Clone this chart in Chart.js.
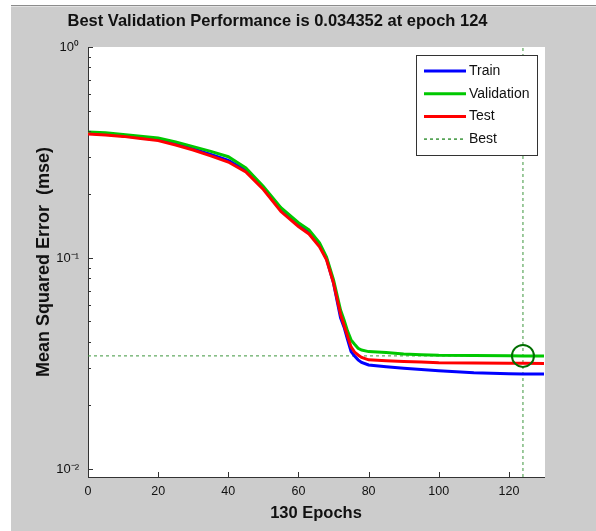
<!DOCTYPE html>
<html>
<head>
<meta charset="utf-8">
<script src="https://cdn.jsdelivr.net/npm/chart.js@4.4.0/dist/chart.umd.min.js"></script>
<style>
body { margin: 0; background: #fff; }
#frame { position: absolute; left: 11px; top: 5px; width: 585px; height: 526px; background: #cccccc; border-top: 1px solid #8c8c8c; box-sizing: border-box; }
#hl { position: absolute; left: 0; top: 0; width: 100%; height: 1px; background: #e2e2e2; }
#wrap { position: absolute; left: 0; top: 1px; width: 585px; height: 524px; }
</style>
</head>
<body>
<div id="frame"><div id="hl"></div><div id="wrap"><canvas id="myChart" width="585" height="524"></canvas></div></div>
<script>
// values
var epochs    = [0, 5, 10, 15, 20, 25, 30, 35, 40, 45, 50, 55, 60, 63, 66, 68, 70, 72, 73, 74, 75, 76, 77, 78, 80, 85, 90, 95, 100, 110, 120, 124, 130];
var trainMse  = [0.390, 0.386, 0.380, 0.371, 0.363, 0.347, 0.329, 0.310, 0.290, 0.260, 0.214, 0.169, 0.143, 0.132, 0.115, 0.099, 0.076, 0.052, 0.047, 0.041, 0.036, 0.0343, 0.0329, 0.0320, 0.0311, 0.0305, 0.0300, 0.0296, 0.0292, 0.0286, 0.0283, 0.0282, 0.0282];
var validMse  = [0.395, 0.392, 0.385, 0.378, 0.370, 0.355, 0.337, 0.320, 0.302, 0.267, 0.218, 0.173, 0.147, 0.136, 0.118, 0.101, 0.0787, 0.0567, 0.0508, 0.045, 0.0409, 0.039, 0.0373, 0.0366, 0.0360, 0.0356, 0.0351, 0.0348, 0.0346, 0.0345, 0.03437, 0.034352, 0.03435];
var testMse   = [0.387, 0.383, 0.377, 0.368, 0.360, 0.343, 0.325, 0.305, 0.285, 0.256, 0.211, 0.166, 0.141, 0.130, 0.113, 0.098, 0.076, 0.054, 0.048, 0.0425, 0.0379, 0.0358, 0.0347, 0.0338, 0.0329, 0.0326, 0.0323, 0.0321, 0.0319, 0.0318, 0.0317, 0.0317, 0.0316];
var bestEpoch = 124;
var bestPerf  = 0.034352;
var xTicks    = [0, 20, 40, 60, 80, 100, 120];
var yTicks    = [0.01, 0.02, 0.03, 0.04, 0.05, 0.06, 0.07, 0.08, 0.09, 0.1, 0.2, 0.3, 0.4, 0.5, 0.6, 0.7, 0.8, 0.9, 1];
var yMajor    = [0.01, 0.1, 1];
var yMajorLabels = ['10\u207B\u00B2', '10\u207B\u00B9', '10\u2070'];
var xMin = 0, xMax = 130, yMin = 0.00916, yMax = 1;

var legendNames = ['Train', 'Validation', 'Test', 'Best'];

function pts(ys) {
  return epochs.map(function (e, i) { return {x: e, y: ys[i]}; });
}

var bestColor = '#3c963c';

// white plot area on the grey figure
var whiteArea = {
  id: 'whiteArea',
  beforeDraw(chart) {
    var a = chart.chartArea, c = chart.ctx;
    c.save();
    c.fillStyle = '#fff';
    c.fillRect(a.left, a.top, a.right - a.left + 1, a.bottom - a.top);
    c.restore();
  }
};

// ticks pointing inward, like the matlab axes
var inTicks = {
  id: 'inTicks',
  afterDraw(chart) {
    var c = chart.ctx, xs = chart.scales.x, ys = chart.scales.y, a = chart.chartArea;
    c.save();
    c.strokeStyle = '#333';
    c.lineWidth = 1;
    c.beginPath();
    xs.ticks.forEach(function (t) {
      var px = Math.round(xs.getPixelForValue(t.value)) + 0.5;
      c.moveTo(px, a.bottom); c.lineTo(px, a.bottom - 5);
    });
    ys.ticks.forEach(function (t) {
      var py = Math.round(ys.getPixelForValue(t.value)) + 0.5;
      var len = yMajor.indexOf(t.value) >= 0 ? 5 : 3;
      c.moveTo(a.left, py); c.lineTo(a.left + len, py);
    });
    c.stroke();
    c.restore();
  }
};

var boxLegend = {
  id: 'boxLegend',
  afterDraw(chart) {
    var c = chart.ctx, a = chart.chartArea;
    var w = 121, h = 100;
    var x0 = a.right - 7 - w, y0 = a.top + 8;
    c.save();
    c.fillStyle = '#fff';
    c.fillRect(x0, y0, w, h);
    c.strokeStyle = '#333';
    c.lineWidth = 1;
    c.strokeRect(x0 + 0.5, y0 + 0.5, w, h);
    var ds = chart.data.datasets;
    var rows = [ds[0], ds[1], ds[2], ds[3]];
    c.font = '14px "Liberation Sans", Arial, sans-serif';
    c.textBaseline = 'middle';
    c.fillStyle = '#111';
    for (var i = 0; i < rows.length; i++) {
      var yy = y0 + 16 + i * 22.7;
      c.beginPath();
      c.strokeStyle = rows[i].borderColor;
      c.lineWidth = i < 3 ? 3 : 1.5;
      c.setLineDash(i < 3 ? [] : [3, 3]);
      c.moveTo(x0 + 8, yy); c.lineTo(x0 + 50, yy);
      c.stroke();
      c.fillText(legendNames[i], x0 + 53, yy);
    }
    c.restore();
  }
};

var myChart = new Chart(document.getElementById('myChart'), {
  type: 'line',
  data: {
    datasets: [
      { label: 'Train', data: pts(trainMse), borderColor: '#0000ff', borderWidth: 3, order: 4 },
      { label: 'Validation', data: pts(validMse), borderColor: '#00c800', borderWidth: 3, order: 3 },
      { label: 'Test', data: pts(testMse), borderColor: '#ff0000', borderWidth: 3, order: 2 },
      { label: 'Best', data: [{x: xMin, y: bestPerf}, {x: xMax, y: bestPerf}], borderColor: bestColor, borderWidth: 1, borderDash: [3, 3], order: 5 },
      { label: 'BestV', data: [{x: bestEpoch, y: yMin}, {x: bestEpoch, y: yMax}], borderColor: bestColor, borderWidth: 1, borderDash: [3, 3], order: 5 },
      { label: 'BestPt', data: [{x: bestEpoch, y: bestPerf}], showLine: false, pointRadius: 11, pointBorderWidth: 2,
        pointBorderColor: '#006e00', pointBackgroundColor: 'rgba(0,0,0,0)', order: 1 }
    ]
  },
  options: {
    responsive: false,
    animation: false,
    layout: { padding: { left: 0, right: 52, top: 0, bottom: 0 } },
    elements: { point: { radius: 0 }, line: { tension: 0 } },
    plugins: {
      legend: false,
      tooltip: { enabled: false },
      title: {
        display: true,
        text: 'Best Validation Performance is 0.034352 at epoch 124',
        color: '#111',
        font: { family: '"Liberation Sans", Arial, sans-serif', size: 16.5, weight: 'bold' },
        padding: { top: 5, bottom: 15.2 }
      }
    },
    scales: {
      x: {
        type: 'linear',
        min: xMin, max: xMax,
        afterBuildTicks: function (s) { s.ticks = xTicks.map(function (v) { return {value: v}; }); },
        afterFit: function (s) { s.height = 54; },
        grid: { display: false, drawTicks: false },
        border: { display: true, color: '#333', width: 1 },
        ticks: { color: '#111', padding: 7, maxRotation: 0, autoSkip: false,
          font: { family: '"Liberation Sans", Arial, sans-serif', size: 12.5 } },
        title: { display: true, text: '130 Epochs', color: '#111',
          font: { family: '"Liberation Sans", Arial, sans-serif', size: 16.5, weight: 'bold' },
          padding: { top: 0, bottom: 8 } }
      },
      y: {
        type: 'logarithmic',
        min: yMin, max: yMax,
        afterBuildTicks: function (s) { s.ticks = yTicks.map(function (v) { return {value: v}; }); },
        afterFit: function (s) { s.width = 77; },
        grid: { display: false, drawTicks: false },
        border: { display: true, color: '#333', width: 1 },
        ticks: { color: '#111', padding: 9, autoSkip: false,
          font: { family: '"Liberation Sans", Arial, sans-serif', size: 13 },
          callback: function (v) { var k = yMajor.indexOf(v); return k >= 0 ? yMajorLabels[k] : ''; } },
        title: { display: true, text: 'Mean Squared Error  (mse)', color: '#111',
          font: { family: '"Liberation Sans", Arial, sans-serif', size: 18, weight: 'bold' },
          padding: { top: 22, bottom: 0 } }
      }
    }
  },
  plugins: [whiteArea, inTicks, boxLegend]
});
</script>
</body>
</html>
